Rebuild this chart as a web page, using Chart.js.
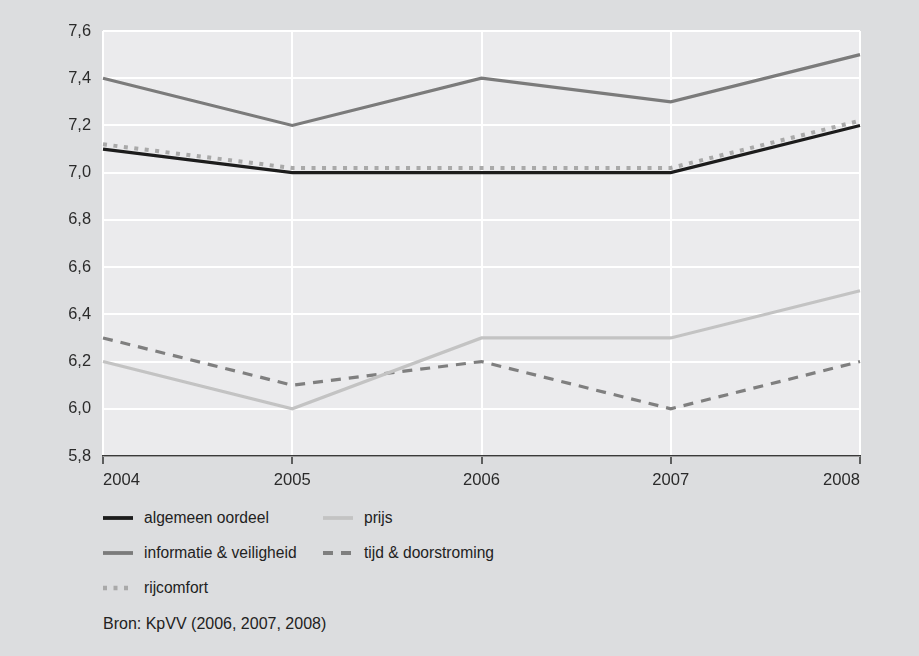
<!DOCTYPE html>
<html>
<head>
<meta charset="utf-8">
<script src="https://cdn.jsdelivr.net/npm/chart.js@4/dist/chart.umd.min.js"></script>
<style>
  html, body { margin: 0; padding: 0; }
  body { width: 919px; height: 656px; background: #dcdddf; position: relative; overflow: hidden;
         font-family: "Liberation Sans", Arial, sans-serif; color: #222; }
  #wrap { position: absolute; left: 0; top: 0; width: 919px; height: 500px; }
  #legend { position: absolute; left: 103px; top: 500px; display: grid;
            grid-template-columns: 220px 260px; row-gap: 0; }
  .item { display: flex; align-items: center; height: 35px; font-size: 15.6px; }
  .item svg { margin-right: 11px; flex: none; }
  #source { position: absolute; left: 103px; top: 615px; font-size: 16px; color: #222; }
</style>
</head>
<body>
<div id="wrap"><canvas id="c" width="919" height="500"></canvas></div>
<div id="legend"></div>
<div id="source">Bron: KpVV (2006, 2007, 2008)</div>
<script>
const years = ['2004', '2005', '2006', '2007', '2008'];
const algemeenOordeel = [7.1, 7.0, 7.0, 7.0, 7.2];
const prijs = [6.2, 6.0, 6.3, 6.3, 6.5];
const informatieVeiligheid = [7.4, 7.2, 7.4, 7.3, 7.5];
const tijdDoorstroming = [6.3, 6.1, 6.2, 6.0, 6.2];
const rijcomfort = [7.12, 7.02, 7.02, 7.02, 7.22];
const yMin = 5.8, yMax = 7.6, yStep = 0.2;

const seriesNames = ['algemeen oordeel', 'prijs', 'informatie & veiligheid', 'tijd & doorstroming', 'rijcomfort'];
const seriesData = [algemeenOordeel, prijs, informatieVeiligheid, tijdDoorstroming, rijcomfort];
const seriesStyle = [
  { color: '#1c1c1c', width: 3.2, dash: [] },
  { color: '#c3c3c3', width: 3.2, dash: [] },
  { color: '#7b7b7b', width: 3.2, dash: [] },
  { color: '#7f7f7f', width: 3.2, dash: [10, 8] },
  { color: '#a9a9a9', width: 4, dash: [4, 6.5] }
];

const plotBg = {
  id: 'plotBg',
  beforeDraw(chart) {
    const a = chart.chartArea, ctx = chart.ctx;
    ctx.save();
    ctx.fillStyle = '#ebebed';
    ctx.fillRect(a.left, a.top, a.right - a.left, a.bottom - a.top);
    ctx.restore();
  }
};

const chart = new Chart(document.getElementById('c'), {
  type: 'line',
  data: {
    labels: years,
    datasets: seriesNames.map((n, i) => ({
      label: n,
      data: seriesData[i],
      borderColor: seriesStyle[i].color,
      backgroundColor: seriesStyle[i].color,
      borderWidth: seriesStyle[i].width,
      borderDash: seriesStyle[i].dash,
      borderCapStyle: 'butt',
      pointRadius: 0,
      tension: 0,
      fill: false
    }))
  },
  options: {
    responsive: false,
    animation: false,
    devicePixelRatio: 1,
    layout: { padding: { left: 0, top: 31, right: 59, bottom: 0 } },
    plugins: { legend: { display: false }, tooltip: { enabled: false } },
    scales: {
      x: {
        offset: false,
        afterFit(scale) { scale.height = 44; },
        grid: { color: '#ffffff', lineWidth: 2, drawTicks: true, tickLength: 8, tickColor: '#333333', tickWidth: 1.5 },
        border: { display: true, color: '#3a3a3a', width: 1.5 },
        ticks: { align: 'inner', color: '#2b2b2b', font: { family: '"Liberation Sans", Arial, sans-serif', size: 16.6 },
                 padding: 6, maxRotation: 0, autoSkip: false }
      },
      y: {
        min: yMin, max: yMax,
        afterFit(scale) { scale.width = 103; },
        grid: { color: '#ffffff', lineWidth: 2, drawTicks: false },
        border: { display: false },
        ticks: {
          stepSize: yStep, padding: 12, color: '#2b2b2b',
          font: { family: '"Liberation Sans", Arial, sans-serif', size: 16.4 },
          callback: v => Number(v).toFixed(1).replace('.', ',')
        }
      }
    }
  },
  plugins: [plotBg]
});

const legend = document.getElementById('legend');
chart.data.datasets.forEach(ds => {
  const item = document.createElement('div');
  item.className = 'item';
  const dash = (ds.borderDash && ds.borderDash.length) ? ds.borderDash.join(' ') : 'none';
  item.innerHTML = '<svg width="30" height="6"><line x1="0" y1="3" x2="30" y2="3" stroke="' + ds.borderColor +
    '" stroke-width="' + (ds.borderWidth + 0.6) + '" stroke-dasharray="' + dash + '"/></svg>';
  const span = document.createElement('span');
  span.textContent = ds.label;
  item.appendChild(span);
  legend.appendChild(item);
});
</script>
</body>
</html>
